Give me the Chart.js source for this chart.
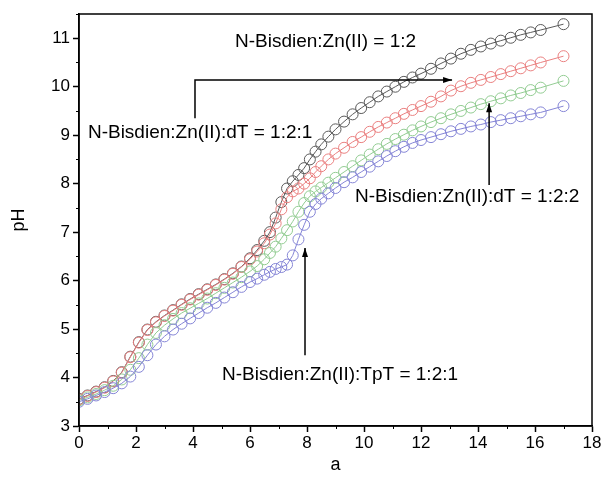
<!DOCTYPE html>
<html>
<head>
<meta charset="utf-8">
<script src="https://cdn.jsdelivr.net/npm/chart.js@4"></script>
<style>
  html, body { margin: 0; padding: 0; background: #fff; }
  #wrap { width: 603px; height: 477px; }
</style>
</head>
<body>
<div id="wrap"><canvas id="ph"></canvas></div>
<script>
// titrant added (a); finer steps around the jump
const aValues = [0, 0.3, 0.6, 0.9, 1.2, 1.5, 1.8, 2.1, 2.4, 2.7, 3.0, 3.3, 3.6, 3.9, 4.2, 4.5, 4.8, 5.1, 5.4, 5.7, 6.0,
  6.25, 6.5, 6.7, 6.9, 7.1, 7.3, 7.5, 7.7, 7.9, 8.1, 8.3, 8.5, 8.75, 9.0,
  9.3, 9.6, 9.9, 10.2, 10.5, 10.8, 11.1, 11.4, 11.7, 12.0,
  12.35, 12.7, 13.05, 13.4, 13.75, 14.1, 14.45, 14.8, 15.15, 15.5, 15.85, 16.2, 17.0];

// pH, N-Bisdien:Zn(II) = 1:2
const phZn = [3.56, 3.63, 3.71, 3.80, 3.93, 4.11, 4.43, 4.73, 4.99, 5.15, 5.28, 5.39, 5.51, 5.62, 5.72, 5.82, 5.92, 6.03, 6.15, 6.29, 6.46,
  6.63, 6.82, 7.00, 7.30, 7.62, 7.90, 8.05, 8.18, 8.32, 8.50, 8.66, 8.81, 8.97, 9.12,
  9.28, 9.43, 9.56, 9.68, 9.80, 9.90, 10.00, 10.10, 10.19, 10.27,
  10.37, 10.48, 10.58, 10.68, 10.76, 10.83, 10.89, 10.95, 11.01, 11.07, 11.12, 11.17, 11.29];

// pH, N-Bisdien:Zn(II):dT = 1:2:1
const phDt1 = [3.55, 3.62, 3.70, 3.79, 3.92, 4.10, 4.42, 4.72, 4.98, 5.14, 5.27, 5.38, 5.50, 5.61, 5.71, 5.81, 5.91, 6.02, 6.14, 6.28, 6.44,
  6.60, 6.77, 6.95, 7.18, 7.47, 7.72, 7.84, 7.90, 8.00, 8.11, 8.24, 8.36, 8.50, 8.62,
  8.74, 8.86, 8.96, 9.07, 9.17, 9.26, 9.35, 9.44, 9.52, 9.60,
  9.69, 9.80, 9.92, 10.01, 10.08, 10.14, 10.20, 10.26, 10.32, 10.38, 10.44, 10.50, 10.63];

// pH, N-Bisdien:Zn(II):dT = 1:2:2
const phDt2 = [3.53, 3.59, 3.66, 3.74, 3.83, 3.96, 4.16, 4.40, 4.68, 4.92, 5.08, 5.21, 5.33, 5.43, 5.53, 5.63, 5.74, 5.85, 5.96, 6.07, 6.19,
  6.30, 6.44, 6.57, 6.70, 6.87, 7.04, 7.22, 7.42, 7.60, 7.74, 7.84, 7.92, 8.02, 8.12,
  8.24, 8.36, 8.48, 8.60, 8.71, 8.82, 8.92, 9.01, 9.10, 9.18,
  9.27, 9.35, 9.43, 9.50, 9.57, 9.64, 9.70, 9.76, 9.82, 9.87, 9.93, 9.98, 10.12];

// pH, N-Bisdien:Zn(II):TpT = 1:2:1
const phTpt = [3.50, 3.56, 3.63, 3.70, 3.78, 3.88, 4.02, 4.22, 4.46, 4.68, 4.85, 4.99, 5.11, 5.22, 5.33, 5.44, 5.54, 5.65, 5.76, 5.87, 5.97,
  6.04, 6.12, 6.18, 6.24, 6.28, 6.33, 6.52, 6.85, 7.15, 7.42, 7.58, 7.69, 7.80, 7.91,
  8.03, 8.13, 8.24, 8.35, 8.46, 8.57, 8.67, 8.76, 8.84, 8.90,
  8.96, 9.02, 9.08, 9.13, 9.18, 9.22, 9.27, 9.31, 9.35, 9.39, 9.43, 9.47, 9.60];

const xTicks = [0, 2, 4, 6, 8, 10, 12, 14, 16, 18];
const yTicks = [3, 4, 5, 6, 7, 8, 9, 10, 11];

// labels on the plot and the arrows pointing at the curves (data units)
const notes = [
  { text: 'N-Bisdien:Zn(II) = 1:2', x: 8.65, y: 10.92 },
  { text: 'N-Bisdien:Zn(II):dT = 1:2:1', x: 4.25, y: 9.04 },
  { text: 'N-Bisdien:Zn(II):dT = 1:2:2', x: 13.62, y: 7.72 },
  { text: 'N-Bisdien:Zn(II):TpT = 1:2:1', x: 9.16, y: 4.05 }
];
const arrows = [
  { path: [[4.07, 9.35], [4.07, 10.14], [13.09, 10.14]] },
  { path: [[14.39, 7.97], [14.39, 9.66]] },
  { path: [[7.93, 4.46], [7.93, 6.67]] }
];

const FONT = '"Liberation Sans", Arial, sans-serif';

function series(values) {
  return aValues.map((a, i) => ({ x: a, y: values[i] }));
}

function makeSet(label, values, color, order) {
  return {
    label: label,
    data: series(values),
    showLine: true,
    borderColor: color,
    borderWidth: 1,
    pointRadius: 5.5,
    pointHoverRadius: 5.5,
    pointBorderWidth: 1,
    pointBorderColor: color,
    pointBackgroundColor: 'rgba(0,0,0,0)',
    order: order
  };
}

const decorations = {
  id: 'decorations',
  afterDraw(chart) {
    const ctx = chart.ctx;
    const area = chart.chartArea;
    const xs = chart.scales.x, ys = chart.scales.y;
    ctx.save();
    ctx.strokeStyle = '#000';
    ctx.fillStyle = '#000';

    // box round the plot
    ctx.lineWidth = 1.5;
    ctx.strokeRect(area.left, area.top, area.right - area.left, area.bottom - area.top);

    // minor ticks
    ctx.lineWidth = 1;
    ctx.beginPath();
    for (let v = 1; v < 18; v += 2) {
      const px = Math.round(xs.getPixelForValue(v)) + 0.5;
      ctx.moveTo(px, area.bottom);
      ctx.lineTo(px, area.bottom + 3);
    }
    for (let v = 3.5; v < 11.6; v += 1) {
      const py = Math.round(ys.getPixelForValue(v)) + 0.5;
      ctx.moveTo(area.left, py);
      ctx.lineTo(area.left - 3, py);
    }
    ctx.stroke();

    // arrows
    ctx.lineWidth = 1.5;
    arrows.forEach(a => {
      const pts = a.path.map(p => [xs.getPixelForValue(p[0]), ys.getPixelForValue(p[1])]);
      ctx.beginPath();
      ctx.moveTo(pts[0][0], pts[0][1]);
      for (let i = 1; i < pts.length; i++) ctx.lineTo(pts[i][0], pts[i][1]);
      ctx.stroke();
      const end = pts[pts.length - 1], prev = pts[pts.length - 2];
      const ang = Math.atan2(end[1] - prev[1], end[0] - prev[0]);
      ctx.beginPath();
      ctx.moveTo(end[0], end[1]);
      ctx.lineTo(end[0] - 9 * Math.cos(ang) + 3 * Math.sin(ang), end[1] - 9 * Math.sin(ang) - 3 * Math.cos(ang));
      ctx.lineTo(end[0] - 9 * Math.cos(ang) - 3 * Math.sin(ang), end[1] - 9 * Math.sin(ang) + 3 * Math.cos(ang));
      ctx.closePath();
      ctx.fill();
    });

    // text labels
    ctx.font = '19px ' + FONT;
    ctx.textAlign = 'center';
    ctx.textBaseline = 'middle';
    notes.forEach(n => {
      ctx.fillText(n.text, xs.getPixelForValue(n.x), ys.getPixelForValue(n.y));
    });
    ctx.restore();
  }
};

new Chart(document.getElementById('ph'), {
  type: 'scatter',
  data: {
    datasets: [
      makeSet('N-Bisdien:Zn(II) = 1:2', phZn, '#5a5a5a', 3),
      makeSet('N-Bisdien:Zn(II):dT = 1:2:1', phDt1, '#ea8080', 2),
      makeSet('N-Bisdien:Zn(II):dT = 1:2:2', phDt2, '#92cc92', 1),
      makeSet('N-Bisdien:Zn(II):TpT = 1:2:1', phTpt, '#8585d6', 0)
    ]
  },
  options: {
    responsive: true,
    maintainAspectRatio: false,
    animation: false,
    events: [],
    layout: { padding: { top: 14, right: 11, left: 0, bottom: 0 } },
    plugins: {
      legend: { display: false },
      tooltip: { enabled: false }
    },
    scales: {
      x: {
        type: 'linear',
        min: 0,
        max: 18,
        afterBuildTicks: s => { s.ticks = xTicks.map(v => ({ value: v })); },
        afterFit: s => { s.height = 51; },
        ticks: { color: '#000', font: { family: FONT, size: 17 }, padding: 1, maxRotation: 0 },
        grid: { drawOnChartArea: false, drawTicks: true, tickLength: 6, color: '#000', tickWidth: 1.5 },
        border: { color: '#000', width: 1.5 },
        title: { display: true, text: 'a', color: '#000', font: { family: FONT, size: 18 }, padding: { top: 0, bottom: 1 } }
      },
      y: {
        type: 'linear',
        min: 3,
        max: 11.5,
        afterBuildTicks: s => { s.ticks = yTicks.map(v => ({ value: v })); },
        afterFit: s => { s.width = 79; },
        ticks: { color: '#000', font: { family: FONT, size: 17 }, padding: 3 },
        grid: { drawOnChartArea: false, drawTicks: true, tickLength: 6, color: '#000', tickWidth: 1.5 },
        border: { color: '#000', width: 1.5 },
        title: { display: true, text: 'pH', color: '#000', font: { family: FONT, size: 18 }, padding: { top: 8, bottom: 0 } }
      }
    }
  },
  plugins: [decorations]
});
</script>
</body>
</html>
